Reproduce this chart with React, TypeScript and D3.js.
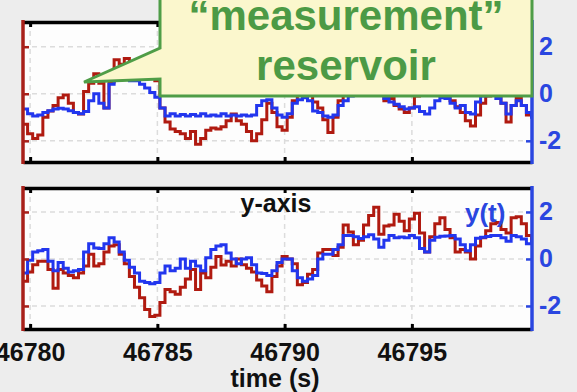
import React, { useEffect, useRef } from 'react';
import * as d3 from 'd3';

// sample times (s), shared by both panels
const times = [
  46779.6, 46779.8, 46780.0, 46780.2, 46780.4, 46780.6, 46780.8, 46781.0, 46781.2, 46781.4,
  46781.6, 46781.8, 46782.0, 46782.2, 46782.4, 46782.6, 46782.8, 46783.0, 46783.2, 46783.4,
  46783.6, 46783.8, 46784.0, 46784.2, 46784.4, 46784.6, 46784.8, 46785.0, 46785.2, 46785.4,
  46785.6, 46785.8, 46786.0, 46786.2, 46786.4, 46786.6, 46786.8, 46787.0, 46787.2, 46787.4,
  46787.6, 46787.8, 46788.0, 46788.2, 46788.4, 46788.6, 46788.8, 46789.0, 46789.2, 46789.4,
  46789.6, 46789.8, 46790.0, 46790.2, 46790.4, 46790.6, 46790.8, 46791.0, 46791.2, 46791.4,
  46791.6, 46791.8, 46792.0, 46792.2, 46792.4, 46792.6, 46792.8, 46793.0, 46793.2, 46793.4,
  46793.6, 46793.8, 46794.0, 46794.2, 46794.4, 46794.6, 46794.8, 46795.0, 46795.2, 46795.4,
  46795.6, 46795.8, 46796.0, 46796.2, 46796.4, 46796.6, 46796.8, 46797.0, 46797.2, 46797.4,
  46797.6, 46797.8, 46798.0, 46798.2, 46798.4, 46798.6, 46798.8, 46799.0, 46799.2, 46799.4,
  46799.6, 46799.8,
];

// top panel ("measurement" reservoir)
const topRed = [
  -0.8, -1.3, -1.7, -1.9, -1.75, -1.0, -0.73, -0.5, -0.17, -0.05,
  -0.4, -0.8, -0.86, 0.1, 0.45, 0.85, 0.45, -0.6, 0.5, 1.45,
  1.25, 1.5, 1.35, 1.4, 1.05, 0.85, 0.7, 0.55, -0.6, -1.2,
  -1.5, -1.6, -1.7, -1.9, -1.6, -2.15, -1.9, -1.55, -1.45, -1.5,
  -1.4, -1.15, -0.86, -1.15, -1.3, -1.6, -2.0, -1.7, -1.1, -0.4,
  -0.8, -1.4, -1.55, -1.0, -0.3, 0.2, 0.3, 0.1, -0.35, -0.6,
  -1.1, -1.65, -1.0, -0.3, 0.2, 0.4, 0.5, 0.35, 0.45, 0.4,
  0.2, 0.1, -0.3, -0.2, -0.5, -0.65, -0.8, -0.6, -0.1, 0.3,
  0.45, 0.4, 0.3, 0.15, -0.1, -0.3, -0.55, -0.8, -1.15, -1.37,
  -0.9, -0.4, -0.1, 0.2, 0.1, -0.4, -1.2, -0.5, -0.2, -0.5,
  -0.9, -0.9,
];
const topBlue = [
  -0.6, -0.65, -0.85, -0.94, -0.9, -0.8, -0.72, -0.65, -0.62, -0.65,
  -0.72, -0.8, -0.85, -0.75, -0.3, 0.0, -0.4, -0.6, 0.4, 0.75,
  0.7, 0.8, 0.55, 0.55, 0.4, 0.25, 0.05, -0.15, -0.6, -0.94,
  -0.85, -0.95, -0.88, -0.95, -0.88, -0.95, -0.85, -0.95, -0.9, -0.95,
  -0.85, -0.95, -0.9, -0.95, -0.9, -0.95, -0.9, -0.5, -0.3, -0.25,
  -0.6, -0.9, -1.0, -0.85, -0.4, -0.25, -0.17, -0.3, -0.73, -0.8,
  -0.95, -1.0, -0.9, -0.5, -0.3, -0.1, 0.1, 0.2, 0.1, 0.25,
  0.2, 0.1, -0.2, -0.35, -0.45, -0.55, -0.65, -0.6, -0.55, -0.75,
  -0.86, -0.6, -0.3, -0.17, -0.2, -0.4, -0.6, -0.5, -0.8, -0.86,
  -0.35, -0.1, 0.0, -0.05, -0.2, -0.4, -0.86, -0.5, -0.3, -0.5,
  -0.8, -1.0,
];

// bottom panel (y-axis, y(t))
const botRed = [
  -0.9, -0.95, -0.55, -0.25, -0.1, -0.1, -0.45, -1.25, -0.45, -0.6,
  -0.7, -0.8, -0.6, -0.3, 0.2, -0.3, -0.2, 0.3, 0.55, 0.6,
  0.2, -0.2, -0.75, -1.2, -1.65, -2.15, -2.45, -2.4, -1.85, -1.3,
  -1.4, -1.5, -1.2, -0.85, -0.45, -1.3, -0.6, -0.8, -0.35, 0.1,
  -0.26, -0.1, -0.3, 0.0, -0.25, -0.4, -0.55, -0.9, -1.15, -1.4,
  -0.75, -0.3, 0.1, 0.0, -0.2, -1.1, -1.0, -0.65, -0.45, 0.25,
  0.4, 0.4, 0.15, 0.5, 1.45, 1.15, 0.6, 0.8, 1.45, 1.85,
  2.2, 1.05, 1.4, 1.45, 1.9, 1.6, 1.2, 1.7, 1.95, 1.1,
  0.3, 0.95, 1.5, 1.75, 1.25, 0.9, 0.3, 0.4, 0.3, 0.0,
  0.55, 0.9, 1.2, 1.5, 1.55, 1.25, 1.1, 1.75, 1.8, 1.5,
  1.0, 0.8,
];
const botBlue = [
  -0.5, -0.6, -0.05, 0.3, 0.35, 0.4, -0.1, -0.5, -0.15, -0.4,
  -0.55, -0.5, -0.45, 0.3, 0.65, 0.47, 0.45, 0.65, 0.9, 0.72,
  0.3, -0.05, -0.35, -0.6, -0.95, -1.0, -1.05, -1.0, -0.6, -0.3,
  -0.5, -0.4, 0.0, -0.4, -0.1, -0.3, -0.5, 0.05, 0.4, 0.55,
  0.6, 0.25, 0.0, -0.2, 0.0, 0.05, -0.25, -0.6, -0.62, -0.7,
  -0.5, -0.15, 0.0, 0.0, -0.5, -0.8, -0.95, -0.85, -0.7, 0.0,
  0.2, 0.2, 0.4, 0.6, 1.0, 1.0, 0.95, 0.87, 0.95, 1.03,
  0.85, 0.5, 0.8, 1.0, 0.9, 0.94, 0.9, 1.0, 0.9, 0.45,
  0.3, 0.8, 0.92, 0.97, 0.98, 1.0, 0.85, 0.6, 0.35, 0.6,
  0.88, 0.92, 0.96, 1.0, 1.0, 0.9, 0.75, 1.0, 0.95, 0.85,
  0.65, 0.75,
];

const xTicks = [46780, 46785, 46790, 46795];
const yTicks = [-2, 0, 2];

const FONT = '"Liberation Sans", Arial, Helvetica, sans-serif';
const RED = '#b01a10';
const BLUE = '#2236ee';
const AXRED = '#a8201a';
const AXBLUE = '#2a46e0';

export default function App() {
  const ref = useRef<SVGSVGElement>(null);

  useEffect(() => {
    const svg = d3.select(ref.current);
    svg.selectAll('*').remove();

    const left = 23;
    const right = 532;
    const x = d3.scaleLinear().domain([46779.72, 46799.72]).range([left, right]);

    svg.append('rect').attr('width', 577).attr('height', 392).attr('fill', '#ededed');

    const panel = (id: string, top: number, bottom: number, yDom: number[],
      red: number[], blue: number[], labels: boolean) => {
      const y = d3.scaleLinear().domain(yDom).range([bottom, top]);
      const g = svg.append('g');

      g.append('rect')
        .attr('x', left).attr('y', top)
        .attr('width', right - left).attr('height', bottom - top)
        .attr('fill', '#fdfdfd');

      // dashed grid
      g.selectAll('.vg').data(xTicks).enter().append('line')
        .attr('x1', d => x(d)).attr('x2', d => x(d))
        .attr('y1', top).attr('y2', bottom)
        .attr('stroke', '#dcdcdc').attr('stroke-width', 1.5)
        .attr('stroke-dasharray', '5,4');
      g.selectAll('.hg').data(yTicks).enter().append('line')
        .attr('x1', left).attr('x2', right)
        .attr('y1', d => y(d)).attr('y2', d => y(d))
        .attr('stroke', '#dcdcdc').attr('stroke-width', 1.5)
        .attr('stroke-dasharray', '5,4');

      svg.append('clipPath').attr('id', id)
        .append('rect')
        .attr('x', left).attr('y', top)
        .attr('width', right - left).attr('height', bottom - top);

      const line = (vals: number[]) => d3.line<number>()
        .x((_, i) => x(times[i]))
        .y(d => y(d))
        .curve(d3.curveStep)(vals);

      g.append('path').attr('d', line(red))
        .attr('fill', 'none').attr('stroke', RED).attr('stroke-width', 3)
        .attr('clip-path', `url(#${id})`);
      g.append('path').attr('d', line(blue))
        .attr('fill', 'none').attr('stroke', BLUE).attr('stroke-width', 3)
        .attr('clip-path', `url(#${id})`);

      // black top/bottom frame with inward ticks
      const topAx = g.append('g').attr('transform', `translate(0,${top})`)
        .call(d3.axisTop(x).tickValues(xTicks).tickSize(-5).tickSizeOuter(0).tickFormat(() => ''));
      const botAx = g.append('g').attr('transform', `translate(0,${bottom})`)
        .call(d3.axisBottom(x).tickValues(xTicks).tickSize(-5).tickSizeOuter(0).tickPadding(14)
          .tickFormat(d => labels ? String(d) : ''));
      [topAx, botAx].forEach(a => {
        a.select('.domain').attr('stroke', '#000').attr('stroke-width', 3.5);
        a.selectAll('.tick line').attr('stroke', '#000').attr('stroke-width', 3);
      });
      botAx.selectAll('.tick text')
        .attr('fill', '#111').attr('font-family', FONT)
        .attr('font-weight', 'bold').attr('font-size', 25);

      // left (red) axis, no labels
      const lAx = g.append('g').attr('transform', `translate(${left},0)`)
        .call(d3.axisLeft(y).tickValues(yTicks).tickSize(-6).tickSizeOuter(0).tickFormat(() => ''));
      lAx.select('.domain').attr('stroke', AXRED).attr('stroke-width', 3.5)
        .attr('d', `M0,${top - 2}V${bottom + 2}`);
      lAx.selectAll('.tick line').attr('stroke', AXRED).attr('stroke-width', 2.5);

      // right (blue) axis
      const rAx = g.append('g').attr('transform', `translate(${right},0)`)
        .call(d3.axisRight(y).tickValues(yTicks).tickSize(-6).tickSizeOuter(0).tickPadding(7)
          .tickFormat(d => String(d)));
      rAx.select('.domain').attr('stroke', AXBLUE).attr('stroke-width', 3.5)
        .attr('d', `M0,${top - 2}V${bottom + 2}`);
      rAx.selectAll('.tick line').attr('stroke', AXBLUE).attr('stroke-width', 2.5);
      rAx.selectAll('.tick text')
        .attr('fill', AXBLUE).attr('font-family', FONT)
        .attr('font-weight', 'bold').attr('font-size', 25);
    };

    panel('clipTop', 22, 162, [-2.9, 3.05], topRed, topBlue, false);
    panel('clipBot', 188, 329, [-2.98, 3.02], botRed, botBlue, true);

    const txt = (s: string, tx: number, ty: number, size: number, fill: string, anchor = 'middle') =>
      svg.append('text').text(s)
        .attr('x', tx).attr('y', ty)
        .attr('text-anchor', anchor)
        .attr('font-family', FONT).attr('font-weight', 'bold')
        .attr('font-size', size).attr('fill', fill);

    txt('y-axis', 276, 212, 25, '#111');
    txt('y(t)', 465, 222, 26, AXBLUE, 'start');
    txt('time (s)', 275, 387, 25, '#111');

    // callout
    svg.append('path')
      .attr('d', 'M160,-4 L532,-4 L532,96 L160,96 L160,79 L84,82 L160,48 Z')
      .attr('fill', '#fbf7cd').attr('stroke', '#4f9d47').attr('stroke-width', 3)
      .attr('stroke-linejoin', 'miter');
    txt('\u201Cmeasurement\u201D', 346, 30, 42, '#4c9a45');
    txt('reservoir', 346, 80, 42, '#4c9a45');
  }, []);

  return (
    <div style={{ position: 'fixed', left: 0, top: 0 }}>
      <svg ref={ref} width={577} height={392} style={{ display: 'block' }} />
    </div>
  );
}
